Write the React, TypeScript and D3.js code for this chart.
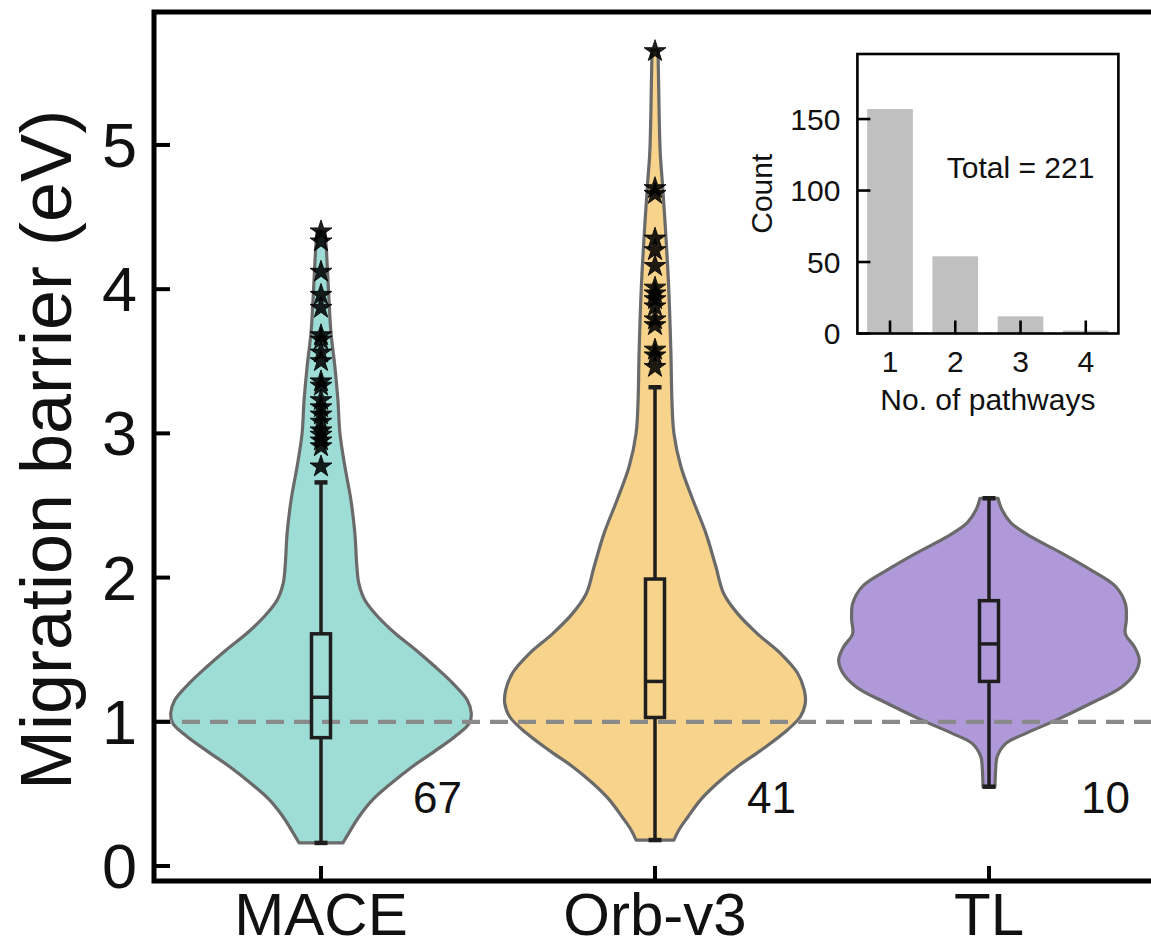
import React from "react";
import * as d3 from "d3";

// ---------- data ----------
const groups = ["MACE", "Orb-v3", "TL"];
const groupCounts = ["67", "41", "10"];
const fillColors = ["#9edcd6", "#f7d38b", "#af99d9"];

// violin profiles: barrier values (eV) and relative density width
const maceProfileV = [0.16, 0.23, 0.34, 0.46, 0.57, 0.69, 0.8, 0.9, 0.99, 1.06, 1.15, 1.27, 1.38, 1.5, 1.61, 1.73, 1.845, 1.96, 2.08, 2.31, 2.54, 2.77, 3.0, 3.23, 3.46, 3.7, 3.93, 4.16, 4.32, 4.4];
const maceProfileW = [22, 28, 38, 52, 70, 92, 115, 135, 149, 151, 147, 132, 115, 95, 75, 57, 44, 38, 36, 34, 30, 24, 19, 17, 14, 10, 8, 6.3, 5, 4];
const orbProfileV = [0.18, 0.25, 0.34, 0.46, 0.57, 0.69, 0.8, 0.92, 1.035, 1.13, 1.22, 1.34, 1.475, 1.61, 1.75, 1.89, 2.08, 2.31, 2.54, 2.77, 3.0, 3.23, 3.555, 4.02, 4.36, 4.71, 4.94, 5.17, 5.4, 5.66];
const orbProfileW = [19, 24, 33, 46, 62, 83, 106, 129, 146, 151, 150, 143, 126, 103, 83, 69, 61, 51, 38, 26, 19, 17, 16, 13.7, 11, 7.7, 5.3, 4.3, 3.7, 3];
const tlProfileV = [0.55, 0.67, 0.76, 0.85, 0.92, 1.01, 1.13, 1.24, 1.34, 1.43, 1.52, 1.61, 1.71, 1.82, 1.94, 2.05, 2.17, 2.28, 2.38, 2.47, 2.55];
const tlProfileW = [6, 6.7, 8.3, 17, 37, 67, 103, 133, 147, 151, 146, 137, 138, 137, 127, 103, 73, 43, 22, 13, 9];

// box statistics: [whisker low, q1, median, q3, whisker high]
const maceBox = [0.16, 0.89, 1.17, 1.61, 2.66];
const orbBox = [0.18, 1.03, 1.28, 1.99, 3.32];
const tlBox = [0.55, 1.28, 1.54, 1.84, 2.55];

// outliers
const maceOutliers = [4.4, 4.33, 4.12, 3.96, 3.87, 3.68, 3.65, 3.56, 3.5, 3.36, 3.33, 3.23, 3.18, 3.13, 3.08, 3.02, 2.99, 2.95, 2.91, 2.77];
const orbOutliers = [5.65, 4.7, 4.66, 4.35, 4.27, 4.16, 4.01, 3.97, 3.93, 3.88, 3.79, 3.75, 3.58, 3.54, 3.46];
const tlOutliers: number[] = [];

const yTicks = [0, 1, 2, 3, 4, 5];
const referenceLine = 1;

// inset
const pathwayCats = [1, 2, 3, 4];
const pathwayCounts = [157, 54, 12, 2];
const insetYTicks = [0, 50, 100, 150];
const insetTotalLabel = "Total = 221";

const profilesV = [maceProfileV, orbProfileV, tlProfileV];
const profilesW = [maceProfileW, orbProfileW, tlProfileW];
const boxes = [maceBox, orbBox, tlBox];
const outliers = [maceOutliers, orbOutliers, tlOutliers];

const FONT = "'Liberation Sans', Arial, Helvetica, sans-serif";

export default function App() {
  const W = 1151, H = 948;
  const left = 154, right = 1156, top = 12, bottom = 881;
  const x = d3.scaleLinear().domain([-0.5, 2.5]).range([left, right]);
  const y = d3.scaleLinear().domain([-0.104, 5.922]).range([bottom, top]);
  const violinHalf = 0.45;

  const star = d3.symbol().type(d3.symbolStar).size(150)() as string;

  const violins = groups.map((g, i) => {
    const vals = profilesV[i];
    const ws = profilesW[i];
    const maxW = d3.max(ws) as number;
    const pts = vals.map((v, k) => ({ v, w: ws[k] / maxW }));
    const cx = i;
    const area = d3
      .area<{ v: number; w: number }>()
      .y((d) => y(d.v))
      .x0((d) => x(cx - d.w * violinHalf))
      .x1((d) => x(cx + d.w * violinHalf))
      .curve(d3.curveCatmullRom.alpha(0.5));
    return area(pts) as string;
  });

  // inset
  const iL = 857.4, iR = 1118.4, iT = 54, iB = 333.5;
  const ix = d3.scaleLinear().domain([0.5, 4.5]).range([iL, iR]);
  const iy = d3.scaleLinear().domain([0, 195.5]).range([iB, iT]);
  const barW = 0.7;

  const boxHalfPx = 9.5;
  const capHalfPx = 6.5;

  return (
    <svg
      width={W}
      height={H}
      style={{ position: "absolute", left: 0, top: 0, display: "block", background: "#fff" }}
      fontFamily={FONT}
    >
      <rect x={0} y={0} width={W} height={H} fill="#fff" />
      {/* violins */}
      {violins.map((p, i) => (
        <path key={"v" + i} d={p} fill={fillColors[i]} stroke="#6a6a6a" strokeWidth={3.2} strokeLinejoin="round" />
      ))}
      {/* reference line */}
      <line
        x1={left}
        x2={right}
        y1={y(referenceLine)}
        y2={y(referenceLine)}
        stroke="#8a8a8a"
        strokeWidth={4.3}
        strokeDasharray="18 10"
      />
      {/* boxes */}
      {boxes.map((b, i) => {
        const cx = x(i);
        const [lo, q1, med, q3, hi] = b;
        const st = "#1e1e1e";
        return (
          <g key={"b" + i}>
            <line x1={cx} x2={cx} y1={y(q3)} y2={y(hi)} stroke={st} strokeWidth={3.5} />
            <line x1={cx} x2={cx} y1={y(q1)} y2={y(lo)} stroke={st} strokeWidth={3.5} />
            <line x1={cx - capHalfPx} x2={cx + capHalfPx} y1={y(hi)} y2={y(hi)} stroke={st} strokeWidth={4.5} />
            <line x1={cx - capHalfPx} x2={cx + capHalfPx} y1={y(lo)} y2={y(lo)} stroke={st} strokeWidth={4.5} />
            <rect
              x={cx - boxHalfPx}
              y={y(q3)}
              width={boxHalfPx * 2}
              height={y(q1) - y(q3)}
              fill="none"
              stroke={st}
              strokeWidth={3.5}
            />
            <line x1={cx - boxHalfPx} x2={cx + boxHalfPx} y1={y(med)} y2={y(med)} stroke={st} strokeWidth={3.5} />
          </g>
        );
      })}
      {/* outliers */}
      {outliers.map((arr, i) =>
        arr.map((v, k) => (
          <path
            key={"o" + i + "_" + k}
            d={star}
            transform={`translate(${x(i)},${y(v)})`}
            fill="#000"
            fillOpacity={0.88}
            stroke="#000"
            strokeWidth={0.8}
          />
        ))
      )}
      {/* count labels */}
      {groupCounts.map((c, i) => (
        <text key={"c" + i} x={x(i) + 92} y={813} fontSize={44} fill="#111">
          {c}
        </text>
      ))}
      {/* frame */}
      <rect x={left} y={top} width={right - left} height={bottom - top} fill="none" stroke="#000" strokeWidth={5} />
      {/* y ticks */}
      {yTicks.map((t) => (
        <g key={"yt" + t}>
          <line x1={left} x2={left + 16} y1={y(t)} y2={y(t)} stroke="#000" strokeWidth={4} />
          <text x={left - 17} y={y(t)} textAnchor="end" dominantBaseline="central" fontSize={63} fill="#111">
            {t}
          </text>
        </g>
      ))}
      {/* x ticks */}
      {groups.map((g, i) => (
        <g key={"xt" + i}>
          <line x1={x(i)} x2={x(i)} y1={bottom} y2={bottom - 15} stroke="#000" strokeWidth={4} />
          <text x={x(i)} y={935} textAnchor="middle" fontSize={60} fill="#111">
            {g}
          </text>
        </g>
      ))}
      {/* y label */}
      <text
        transform={`translate(71,450) rotate(-90)`}
        textAnchor="middle"
        fontSize={72}
        fill="#111"
      >
        Migration barrier (eV)
      </text>

      {/* inset */}
      <rect x={iL} y={iT} width={iR - iL} height={iB - iT} fill="#fff" />
      {pathwayCounts.map((c, k) => (
        <rect
          key={"bar" + k}
          x={ix(pathwayCats[k] - barW / 2)}
          y={iy(c)}
          width={ix(pathwayCats[k] + barW / 2) - ix(pathwayCats[k] - barW / 2)}
          height={iy(0) - iy(c)}
          fill="#c0c0c0"
        />
      ))}
      <rect x={iL} y={iT} width={iR - iL} height={iB - iT} fill="none" stroke="#000" strokeWidth={2.6} />
      {insetYTicks.map((t) => (
        <g key={"iyt" + t}>
          <line x1={iL} x2={iL + 13} y1={iy(t)} y2={iy(t)} stroke="#000" strokeWidth={2.6} />
          <text x={iL - 17} y={iy(t)} textAnchor="end" dominantBaseline="central" fontSize={30} fill="#111">
            {t}
          </text>
        </g>
      ))}
      {pathwayCats.map((c) => (
        <g key={"ixt" + c}>
          <line x1={ix(c)} x2={ix(c)} y1={iB} y2={iB - 13} stroke="#000" strokeWidth={2.6} />
          <text x={ix(c)} y={372} textAnchor="middle" fontSize={30} fill="#111">
            {c}
          </text>
        </g>
      ))}
      <text x={(iL + iR) / 2} y={410} textAnchor="middle" fontSize={30} fill="#111">
        No. of pathways
      </text>
      <text transform={`translate(772,${(iT + iB) / 2}) rotate(-90)`} textAnchor="middle" fontSize={30} fill="#111">
        Count
      </text>
      <text x={ix(3)} y={178} textAnchor="middle" fontSize={30} fill="#111">
        {insetTotalLabel}
      </text>
    </svg>
  );
}
